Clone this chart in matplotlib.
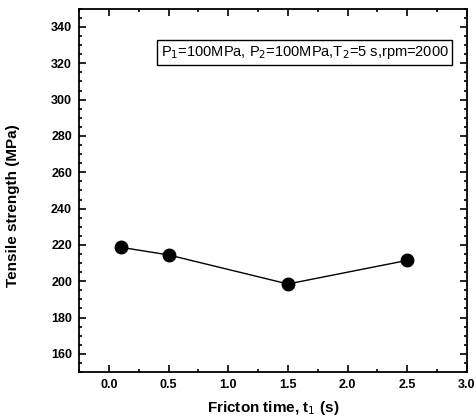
import matplotlib.pyplot as plt
from matplotlib.ticker import MultipleLocator

plt.rcParams['font.family'] = ['Liberation Sans', 'DejaVu Sans']

# friction time (s) and tensile strength (MPa)
friction_time = [0.1, 0.5, 1.5, 2.5]
tensile_strength = [218.7, 214.5, 198.5, 211.5]

fig = plt.figure(figsize=(4.76, 4.19), dpi=100)
ax = fig.add_axes([0.166, 0.112, 0.815, 0.867])

ax.plot(friction_time, tensile_strength, marker='o', linestyle='-', color='black',
        markersize=9, linewidth=1)

ax.set_xlim(-0.25, 3.0)
ax.set_ylim(150, 350)
ax.xaxis.set_major_locator(MultipleLocator(0.5))
ax.xaxis.set_minor_locator(MultipleLocator(0.25))
ax.yaxis.set_minor_locator(MultipleLocator(5))
ax.set_yticks(range(160, 341, 20))
ax.tick_params(which='both', direction='in', top=True, right=True, width=1.2)
ax.tick_params(which='major', length=5, labelsize=9, pad=5)
ax.tick_params(which='minor', length=2.5)
for lab in ax.get_xticklabels() + ax.get_yticklabels():
    lab.set_fontweight('bold')
for s in ax.spines.values():
    s.set_linewidth(1.3)

ax.set_xlabel('Fricton time, t$_1$ (s)', fontsize=11, fontweight='bold', labelpad=6)
ax.set_ylabel('Tensile strength (MPa)', fontsize=11, fontweight='bold')
ax.yaxis.set_label_coords(-0.152, 0.457)

ax.text(0.582, 0.88, 'P$_1$=100MPa, P$_2$=100MPa,T$_2$=5 s,rpm=2000',
        transform=ax.transAxes, ha='center', va='center', fontsize=10.5,
        bbox=dict(boxstyle='square,pad=0.25', facecolor='white', edgecolor='black', linewidth=1))

fig.savefig('out.png', dpi=100)
